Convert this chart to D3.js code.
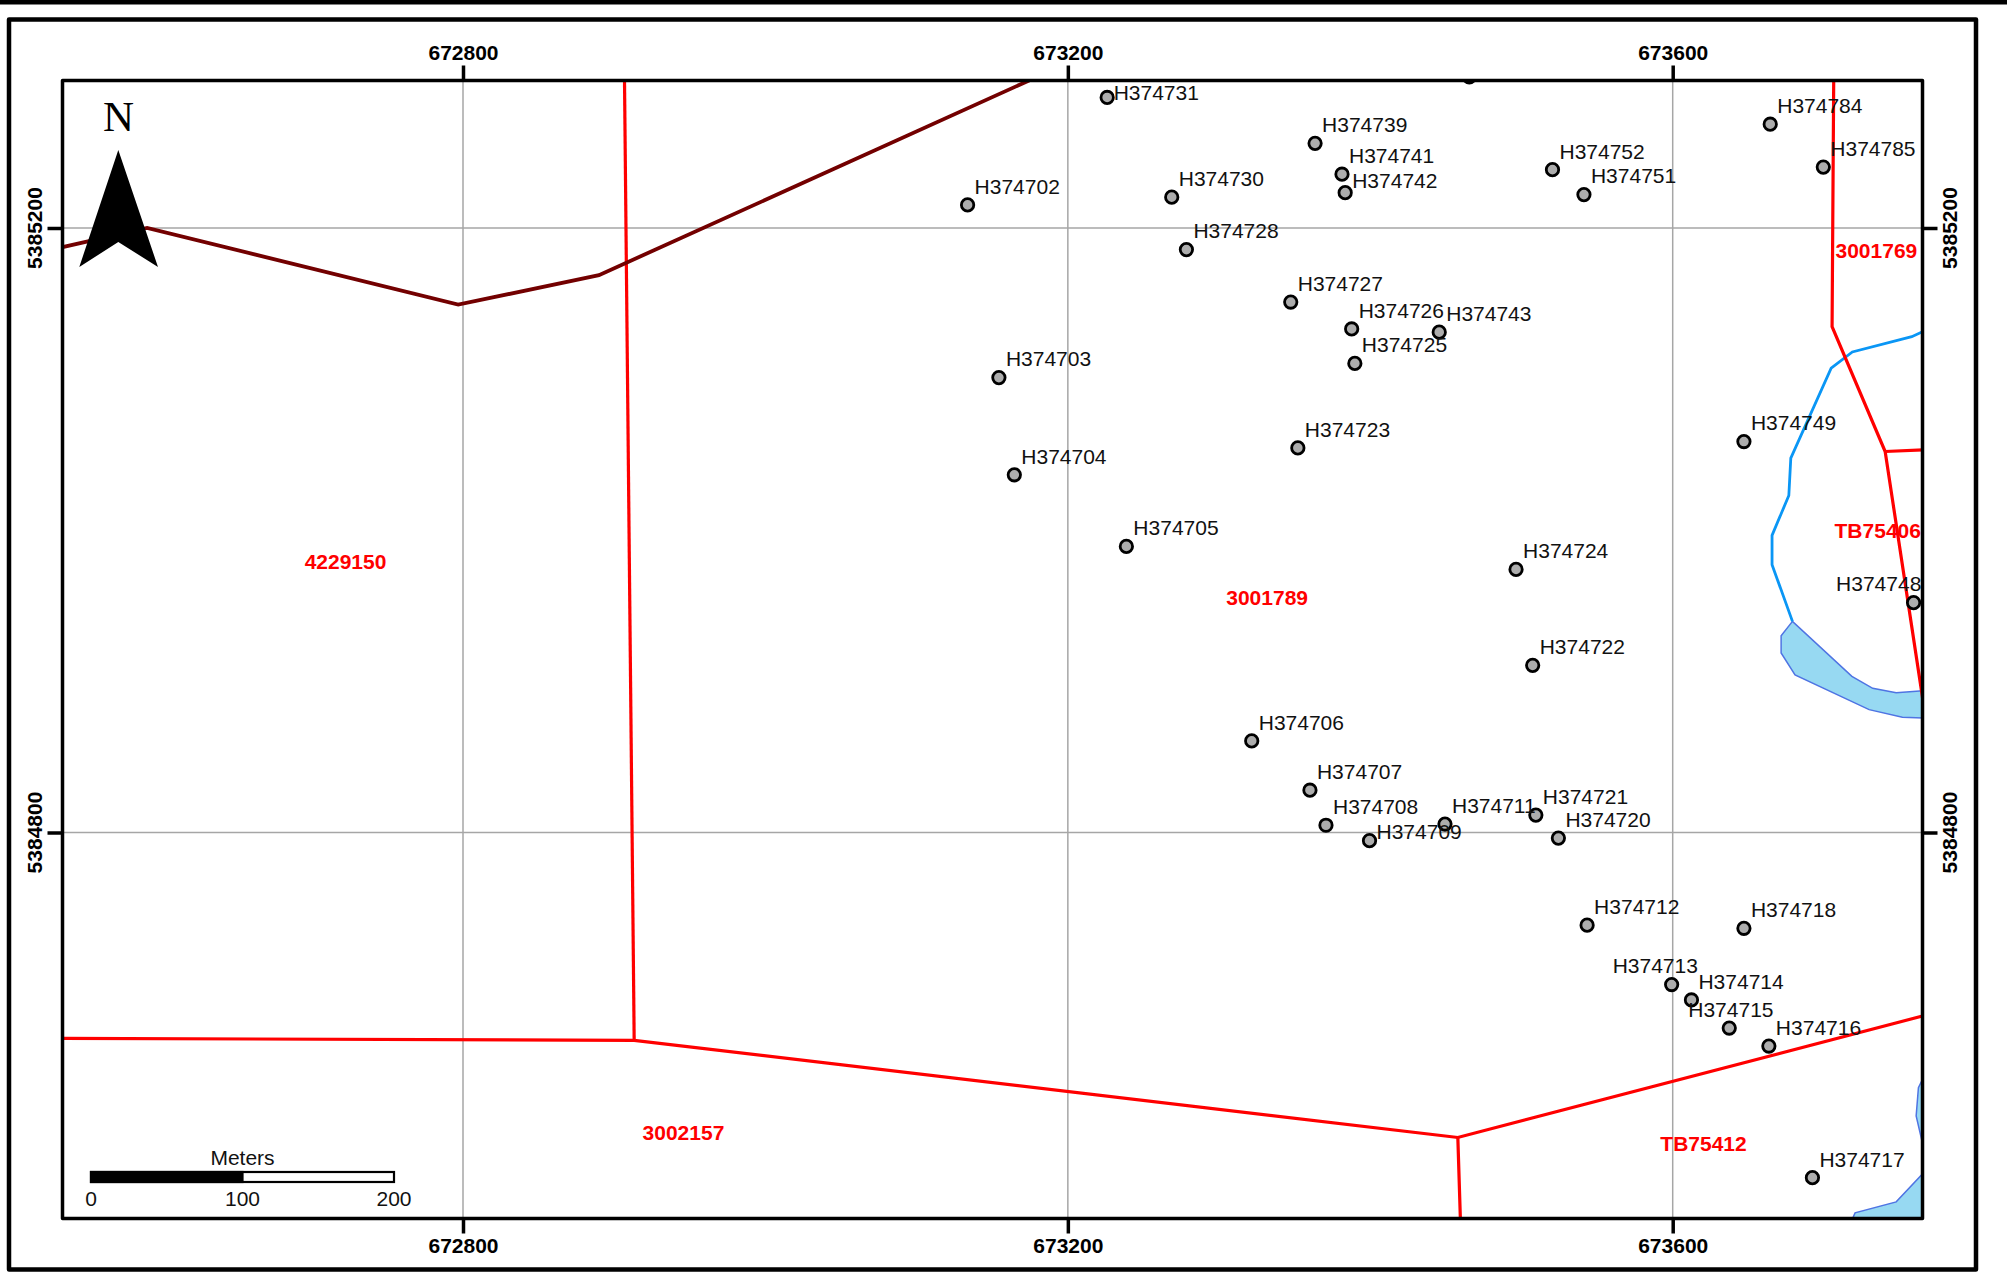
<!DOCTYPE html>
<html>
<head>
<meta charset="utf-8">
<title>Drill holes map</title>
<script src="https://cdnjs.cloudflare.com/ajax/libs/d3/7.8.5/d3.min.js"></script>
<style>
	html, body { margin: 0; padding: 0; background: #fff; }
	svg { display: block; font-family: "Liberation Sans", Arial, sans-serif; }
</style>
</head>
<body>
<div id="map"></div>
<script>
// map units: UTM easting / northing, metres
const eastTicks = [672800, 673200, 673600];
const northTicks = [5385200, 5384800];
const scaleBarTicks = [0, 100, 200];

const holeIds = ['H374731', 'H374739', 'H374741', 'H374742', 'H374702', 'H374730', 'H374728', 'H374752', 'H374751', 'H374784',
	'H374785', 'H374727', 'H374726', 'H374743', 'H374725', 'H374703', 'H374723', 'H374704', 'H374749', 'H374705',
	'H374724', 'H374748', 'H374722', 'H374706', 'H374707', 'H374708', 'H374709', 'H374711', 'H374721', 'H374720',
	'H374712', 'H374718', 'H374713', 'H374714', 'H374715', 'H374716', 'H374717', ''];
const holeEastings = [673226.0, 673363.5, 673381.3, 673383.4, 673133.7, 673268.7, 673278.4, 673520.5, 673541.3, 673664.5,
	673699.6, 673347.4, 673387.7, 673445.6, 673389.8, 673154.4, 673352.1, 673164.6, 673647.1, 673238.7,
	673496.4, 673759.3, 673507.4, 673321.6, 673360.1, 673370.7, 673399.5, 673449.4, 673509.5, 673524.4,
	673543.4, 673647.1, 673599.3, 673612.4, 673637.4, 673663.6, 673692.4, 673465.5];
const holeNorthings = [5385286.4, 5385256.0, 5385235.6, 5385223.4, 5385215.3, 5385220.4, 5385185.7, 5385238.6, 5385222.1, 5385268.7,
	5385240.3, 5385151.0, 5385133.2, 5385131.1, 5385110.4, 5385101.0, 5385054.5, 5385036.7, 5385058.7, 5384989.3,
	5384974.1, 5384952.1, 5384910.6, 5384860.6, 5384828.0, 5384804.8, 5384794.6, 5384805.6, 5384811.5, 5384796.3,
	5384738.7, 5384736.6, 5384699.4, 5384689.2, 5384670.6, 5384658.7, 5384571.6, 5385300.0];

const zoneNames = ['4229150', '3001789', '3001769', 'TB75406', '3002157', 'TB75412'];
const zoneEastings = [672722.3, 673331.8, 673734.7, 673735.6, 672945.8, 673620.4];
const zoneNorthings = [5384979.1, 5384955.4, 5385184.8, 5384999.5, 5384601.6, 5384594.4];

const darkBoundary = [[672533.5, 5385187.0], [672591.1, 5385200.1], [672796.8, 5385149.3], [672889.9, 5385168.8], [673177.7, 5385299.1]];
const redBoundaries = [
	[[672906.8, 5385298.3], [672913.2, 5384662.5]],
	[[672533.5, 5384663.8], [672913.2, 5384662.5], [673457.9, 5384598.2], [673767.7, 5384679.2]],
	[[673457.9, 5384598.2], [673459.6, 5384544.0]],
	[[673706.5, 5385301.0], [673705.4, 5385134.7], [673740.5, 5385052.1], [673765.6, 5384886.7]],
	[[673740.5, 5385052.1], [673766.9, 5385053.2]]
];
const stream = [[673766.9, 5385132.2], [673758.1, 5385128.1], [673718.8, 5385118.0], [673704.8, 5385107.2], [673678.1, 5385047.7],
	[673676.8, 5385023.0], [673665.7, 5384996.6], [673665.7, 5384977.2], [673679.2, 5384939.7]];
const lakes = [
	[[673679.2, 5384939.7], [673671.7, 5384930.2], [673671.7, 5384918.8], [673680.9, 5384904.3], [673729.9, 5384881.3], [673751.9, 5384876.2],
		[673766.9, 5384875.7], [673766.9, 5384893.9], [673747.8, 5384892.4], [673732.3, 5384895.4], [673718.5, 5384903.3]],
	[[673766.9, 5384640.0], [673762.5, 5384631.2], [673761.0, 5384612.4], [673766.9, 5384587.1]],
	[[673717.3, 5384540.8], [673720.6, 5384548.3], [673747.8, 5384555.6], [673766.9, 5384575.9], [673766.9, 5384540.8]]
];

const width = 2007, height = 1274;
const frame = { left: 62.5, right: 1922.5, top: 80.5, bottom: 1218.5 };

const x = d3.scaleLinear().domain([672800, 673600]).range([463, 1672.7]);
const y = d3.scaleLinear().domain([5385200, 5384800]).range([228, 832.5]);
const path = d3.line().x(d => x(d[0])).y(d => y(d[1]));

// labels sit up and to the right of their hole unless listed here
const labelDx = 7, labelDy = -18.5;
const labelNudge = {
	H374731: [6.5, -5], H374742: [7, -12], H374709: [7, -9],
	H374748: [-77.5, -18.5], H374713: [-59, -18.5], H374715: [-41, -18.5]
};
const labelFontSize = 21;

const svg = d3.select('#map').append('svg')
	.attr('width', width)
	.attr('height', height);

svg.append('rect').attr('width', width).attr('height', height).attr('fill', '#fff');
svg.append('rect').attr('width', width).attr('height', 4.5).attr('fill', '#000');

// outer neatline
svg.append('rect')
	.attr('x', 9).attr('y', 19.5)
	.attr('width', 1967).attr('height', 1250)
	.attr('fill', 'none').attr('stroke', '#000').attr('stroke-width', 4.5)
	.attr('stroke-linejoin', 'round');

svg.append('clipPath').attr('id', 'mapClip').append('rect')
	.attr('x', frame.left).attr('y', frame.top)
	.attr('width', frame.right - frame.left).attr('height', frame.bottom - frame.top);

const inner = svg.append('g').attr('clip-path', 'url(#mapClip)');

// grid
inner.selectAll('line.east').data(eastTicks).enter().append('line')
	.attr('class', 'east')
	.attr('x1', d => x(d)).attr('x2', d => x(d))
	.attr('y1', frame.top).attr('y2', frame.bottom)
	.attr('stroke', '#a6a6a6').attr('stroke-width', 1.5);
inner.selectAll('line.north').data(northTicks).enter().append('line')
	.attr('class', 'north')
	.attr('y1', d => y(d)).attr('y2', d => y(d))
	.attr('x1', frame.left).attr('x2', frame.right)
	.attr('stroke', '#a6a6a6').attr('stroke-width', 1.5);

// water
inner.selectAll('path.lake').data(lakes).enter().append('path')
	.attr('class', 'lake')
	.attr('d', d => path(d) + 'Z')
	.attr('fill', '#97d9f2')
	.attr('stroke', '#4f74e3')
	.attr('stroke-width', 1.5);
inner.append('path')
	.attr('d', path(stream))
	.attr('fill', 'none')
	.attr('stroke', '#0a96f5')
	.attr('stroke-width', 2.8);

// boundaries
inner.selectAll('path.red').data(redBoundaries).enter().append('path')
	.attr('class', 'red')
	.attr('d', path)
	.attr('fill', 'none')
	.attr('stroke', '#ff0000')
	.attr('stroke-width', 3.2);
inner.append('path')
	.attr('d', path(darkBoundary))
	.attr('fill', 'none')
	.attr('stroke', '#730000')
	.attr('stroke-width', 3.8);

// holes
inner.selectAll('circle').data(holeIds).enter().append('circle')
	.attr('cx', (d, i) => x(holeEastings[i]))
	.attr('cy', (d, i) => y(holeNorthings[i]))
	.attr('r', 6.2)
	.attr('fill', '#adadad')
	.attr('stroke', '#000')
	.attr('stroke-width', 2.8);

svg.append('g').selectAll('text').data(holeIds).enter().append('text')
	.attr('x', (d, i) => x(holeEastings[i]) + (labelNudge[d] ? labelNudge[d][0] : labelDx))
	.attr('y', (d, i) => y(holeNorthings[i]) + (labelNudge[d] ? labelNudge[d][1] : labelDy))
	.attr('dy', '0.35em')
	.attr('font-size', labelFontSize)
	.attr('fill', '#111')
	.text(d => d);

// claim numbers
svg.append('g').selectAll('text').data(zoneNames).enter().append('text')
	.attr('x', (d, i) => x(zoneEastings[i]))
	.attr('y', (d, i) => y(zoneNorthings[i]))
	.attr('dy', '0.35em')
	.attr('text-anchor', 'middle')
	.attr('font-size', 21)
	.attr('font-weight', 'bold')
	.attr('fill', '#ff0000')
	.text(d => d);

// map frame
svg.append('rect')
	.attr('x', frame.left).attr('y', frame.top)
	.attr('width', frame.right - frame.left).attr('height', frame.bottom - frame.top)
	.attr('fill', 'none').attr('stroke', '#000').attr('stroke-width', 3.5)
	.attr('stroke-linejoin', 'round');

// ticks and coordinate labels on all four sides
function styleAxis(g) {
	g.select('.domain').remove();
	g.selectAll('.tick line').attr('stroke', '#000').attr('stroke-width', 3.5);
	g.selectAll('.tick text')
		.attr('font-family', '"Liberation Sans", Arial, sans-serif')
		.attr('font-size', 21)
		.attr('font-weight', 'bold')
		.attr('fill', '#000');
}

svg.append('g')
	.attr('transform', 'translate(0,' + frame.top + ')')
	.call(d3.axisTop(x).tickValues(eastTicks).tickSize(15).tickPadding(6).tickFormat(d3.format('d')))
	.call(styleAxis);
svg.append('g')
	.attr('transform', 'translate(0,' + frame.bottom + ')')
	.call(d3.axisBottom(x).tickValues(eastTicks).tickSize(15).tickPadding(5).tickFormat(d3.format('d')))
	.call(styleAxis);
svg.append('g')
	.attr('transform', 'translate(' + frame.left + ',0)')
	.call(d3.axisLeft(y).tickValues(northTicks).tickSize(15).tickFormat(d3.format('d')))
	.call(styleAxis)
	.selectAll('.tick text')
	.attr('x', null).attr('dy', null)
	.attr('text-anchor', 'middle')
	.attr('transform', 'translate(-28,-0.5) rotate(-90)')
	.attr('dy', '0.35em');
svg.append('g')
	.attr('transform', 'translate(' + frame.right + ',0)')
	.call(d3.axisRight(y).tickValues(northTicks).tickSize(15).tickFormat(d3.format('d')))
	.call(styleAxis)
	.selectAll('.tick text')
	.attr('x', null).attr('dy', null)
	.attr('text-anchor', 'middle')
	.attr('transform', 'translate(27.5,-0.5) rotate(-90)')
	.attr('dy', '0.35em');

// north arrow
const north = svg.append('g');
north.append('path')
	.attr('d', 'M118.3,150L158,267L118.3,242L79.3,267Z')
	.attr('fill', '#000');
north.append('text')
	.attr('x', 118.5).attr('y', 131)
	.attr('text-anchor', 'middle')
	.attr('font-family', '"Liberation Serif", "Times New Roman", serif')
	.attr('font-size', 43)
	.attr('fill', '#000')
	.text('N');

// scale bar
const bar = d3.scaleLinear().domain([0, 200]).range([91, 394]);
const barTop = 1172, barHeight = 10;
svg.append('rect')
	.attr('x', bar(0)).attr('y', barTop)
	.attr('width', bar(200) - bar(0)).attr('height', barHeight)
	.attr('fill', '#fff').attr('stroke', '#000').attr('stroke-width', 2.2);
svg.append('rect')
	.attr('x', bar(0)).attr('y', barTop)
	.attr('width', bar(100) - bar(0)).attr('height', barHeight)
	.attr('fill', '#000').attr('stroke', '#000').attr('stroke-width', 2.2);
svg.append('g').selectAll('text').data(scaleBarTicks).enter().append('text')
	.attr('x', d => bar(d))
	.attr('y', 1199)
	.attr('dy', '0.35em')
	.attr('text-anchor', 'middle')
	.attr('font-size', labelFontSize)
	.attr('fill', '#111')
	.text(d => d);
svg.append('text')
	.attr('x', bar(100)).attr('y', 1158)
	.attr('dy', '0.35em')
	.attr('text-anchor', 'middle')
	.attr('font-size', labelFontSize)
	.attr('fill', '#111')
	.text('Meters');
</script>
</body>
</html>
